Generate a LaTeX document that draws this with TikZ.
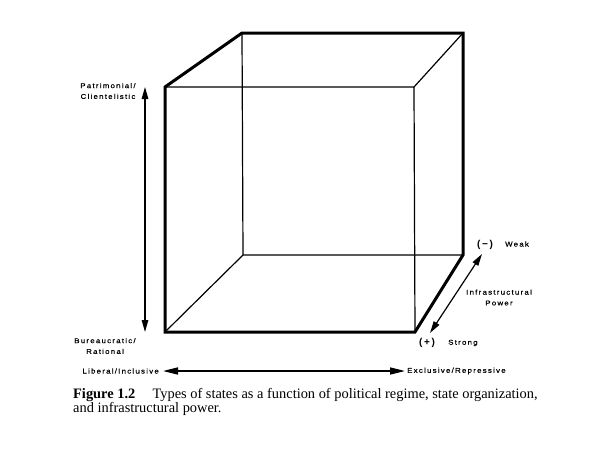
\documentclass[tikz,border=0pt]{standalone}
\usepackage{fontspec}
\setmainfont{Liberation Serif}
\newfontfamily\labelfont[LetterSpace=18, FakeStretch=1.12, FakeBold=0.5]{Liberation Sans}
\newfontfamily\signfont{Liberation Sans}
\usetikzlibrary{arrows.meta}

\begin{document}
\begin{tikzpicture}[x=1pt, y=-1pt,
  edge/.style={line width=1.2pt},
  outline/.style={line width=3pt, line join=miter},
  axis/.style={line width=1.3pt, {Triangle[length=12pt,width=6.5pt]}-{Triangle[length=12pt,width=6.5pt]}},
  wideaxis/.style={line width=1.6pt, {Triangle[length=15pt,width=7pt]}-{Triangle[length=15pt,width=7pt]}},
  tag/.style={font=\labelfont\fontsize{7}{10.8}\selectfont, align=center, inner sep=0pt},
  sign/.style={font=\signfont\bfseries\fontsize{10}{11}\selectfont, inner sep=0pt},
  caption/.style={font=\fontsize{14.4}{15}\selectfont, inner sep=0pt, anchor=base west}]
\useasboundingbox (0,0) rectangle (606,456);

% cube corners: front face and back face
\coordinate (ftl) at (165,87);
\coordinate (ftr) at (414,87);
\coordinate (fbl) at (165,332);
\coordinate (fbr) at (415,332);
\coordinate (btl) at (242,33);
\coordinate (btr) at (463,33);
\coordinate (bbl) at (243,255);
\coordinate (bbr) at (463,255);

% inner edges
\draw[edge] (ftl) -- (ftr) -- (fbr);
\draw[edge] (ftr) -- (btr);
\draw[edge] (btl) -- (bbl) -- (bbr);
\draw[edge] (bbl) -- (fbl);

% silhouette
\draw[outline] (fbl) -- (ftl) -- (btl) -- (btr) -- (bbr) -- (fbr) -- cycle;

% vertical axis: state organization
\coordinate (vtop) at (145,87);
\coordinate (vbot) at (145,332);
\draw[axis] (vbot) -- (vtop);
\node[tag] (patr) at (108,91) {Patrimonial/\\Clientelistic};
\node[tag] (bur) at (105,346) {Bureaucratic/\\Rational};

% horizontal axis: political regime
\node[tag, anchor=east] (lib) at (159,371) {Liberal/Inclusive};
\node[tag, anchor=west] (exc) at (407,371) {Exclusive/Repressive};
\coordinate (hl) at ([xshift=4pt]lib.east);
\coordinate (hr) at ([xshift=-2pt]exc.west);
\draw[wideaxis] (hl) -- (hr);

% depth axis: infrastructural power
\coordinate (dtop) at (482,254);
\coordinate (dbot) at (430,333);
\draw[axis, line width=1.2pt] (dbot) -- (dtop);
\node[sign] (minus) at (485,245) {(\,\char"2212\,)};
\node[tag, anchor=west] (weak) at (505,244) {Weak};
\node[sign] (plus) at (427,343) {(\,+\,)};
\node[tag, anchor=west] (strong) at (448,343) {Strong};
\node[tag] (infra) at (499,297.5) {Infrastructural\\Power};

% caption
\node[caption] (cap1) at (73,398) {\textbf{Figure 1.2}\hspace{1.2em}Types of states as a function of political regime, state organization,};
\node[caption] (cap2) at (73,412) {and infrastructural power.};
\end{tikzpicture}
\end{document}
